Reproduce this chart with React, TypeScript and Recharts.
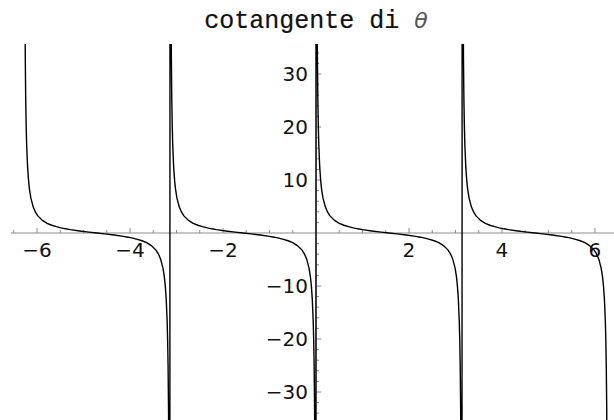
import { LineChart, Line, XAxis, YAxis, ReferenceLine, ReferenceDot } from "recharts";

// One period of cot(θ): offsets from the left asymptote and the values there
const periodOffsets = [
  0.005, 0.01, 0.02, 0.03, 0.04, 0.05, 0.06, 0.08, 0.1, 0.12, 0.15, 0.2, 0.25, 0.3,
  0.4, 0.5, 0.6, 0.7, 0.8, 0.9, 1.0, 1.2, 1.4, 1.5708, 1.7416, 1.9416, 2.1416,
  2.2416, 2.3416, 2.4416, 2.5416, 2.6416, 2.7416, 2.8416, 2.8916, 2.9416, 2.9916,
  3.0216, 3.0416, 3.0616, 3.0816, 3.0916, 3.1016, 3.1116, 3.1216, 3.1316, 3.1366,
];
const periodValues = [
  200.0, 100.0, 49.99, 33.32, 24.99, 19.98, 16.65, 12.47, 9.97, 8.29, 6.62, 4.93, 3.92, 3.23,
  2.37, 1.83, 1.46, 1.19, 0.97, 0.79, 0.64, 0.39, 0.17, 0, -0.17, -0.39, -0.64,
  -0.79, -0.97, -1.19, -1.46, -1.83, -2.37, -3.23, -3.92, -4.93, -6.62,
  -8.29, -9.97, -12.47, -16.65, -19.98, -24.99, -33.32, -49.99, -100.0, -200.0,
];
// left edge of each branch: -2π, -π, 0, π
const branchStarts = [-6.2832, -3.1416, 0, 3.1416];

const xMajorTicks = [-6, -4, -2, 2, 4, 6];
const xMinorTicks = [
  -6.5, -5.5, -5, -4.5, -3.5, -3, -2.5, -1.5, -1, -0.5,
  0.5, 1, 1.5, 2.5, 3, 3.5, 4.5, 5, 5.5, 6.5,
];
const yMajorTicks = [-30, -20, -10, 10, 20, 30];
const yMinorTicks = [
  -34, -32, -28, -26, -24, -22, -18, -16, -14, -12, -8, -6, -4, -2,
  2, 4, 6, 8, 12, 14, 16, 18, 22, 24, 26, 28, 32, 34,
];

const data = branchStarts.flatMap((start) =>
  periodOffsets.map((t, i) => ({ x: start + t, y: periodValues[i] }))
);

const AXIS = "#8a8a8a";
const labelFont = { fill: "#111", fontSize: 20, fontFamily: "DejaVu Sans" };
const fmt = (v: number) => (v < 0 ? `\u2212${-v}` : `${v}`);

export default function App() {
  return (
    <div style={{ position: "absolute", left: 0, top: 0, width: 614, height: 420, overflow: "hidden", background: "#fff" }}>
      <div
        style={{
          position: "absolute",
          left: 0,
          top: 9,
          width: 632,
          textAlign: "center",
          fontFamily: "Liberation Mono",
          fontSize: 25,
          lineHeight: "24px",
          color: "#111",
          whiteSpace: "pre",
          WebkitTextStroke: "0.2px #111",
        }}
      >
        cotangente di{" "}
        <span style={{ fontFamily: "DejaVu Sans", fontStyle: "italic", fontSize: 22, color: "#555", WebkitTextStroke: "0px" }}>θ</span>
      </div>
      <LineChart
        width={640}
        height={430}
        data={data}
        margin={{ top: 44, right: 19, bottom: 8, left: 11 }}
        style={{ position: "absolute", left: 0, top: 0 }}
      >
        <XAxis type="number" dataKey="x" domain={[-6.56, 6.56]} allowDataOverflow hide />
        <YAxis type="number" domain={[-35.66, 35.66]} allowDataOverflow hide />

        <ReferenceLine y={0} stroke={AXIS} strokeWidth={1} />
        <ReferenceLine x={0} stroke={AXIS} strokeWidth={1} />

        {xMinorTicks.map((v) => (
          <ReferenceLine key={`xm${v}`} segment={[{ x: v, y: 0 }, { x: v, y: 0.55 }]} stroke={AXIS} />
        ))}
        {xMajorTicks.map((v) => (
          <ReferenceLine key={`xM${v}`} segment={[{ x: v, y: 0 }, { x: v, y: 0.95 }]} stroke={AXIS} />
        ))}
        {yMinorTicks.map((v) => (
          <ReferenceLine key={`ym${v}`} segment={[{ x: 0, y: v }, { x: 0.065, y: v }]} stroke={AXIS} />
        ))}
        {yMajorTicks.map((v) => (
          <ReferenceLine key={`yM${v}`} segment={[{ x: 0, y: v }, { x: 0.11, y: v }]} stroke={AXIS} />
        ))}

        <Line
          type="linear"
          dataKey="y"
          stroke="#000"
          strokeWidth={1.4}
          dot={false}
          activeDot={false}
          isAnimationActive={false}
        />

        {xMajorTicks.map((v) => (
          <ReferenceDot
            key={`xl${v}`}
            x={v}
            y={0}
            r={0.01}
            fill="none"
            stroke="none"
            label={{ value: fmt(v), position: "bottom", offset: 10, ...labelFont }}
          />
        ))}
        {yMajorTicks.map((v) => (
          <ReferenceDot
            key={`yl${v}`}
            x={0}
            y={v}
            r={0.01}
            fill="none"
            stroke="none"
            label={{ value: fmt(v), position: "left", offset: 8, ...labelFont }}
          />
        ))}
      </LineChart>
    </div>
  );
}
